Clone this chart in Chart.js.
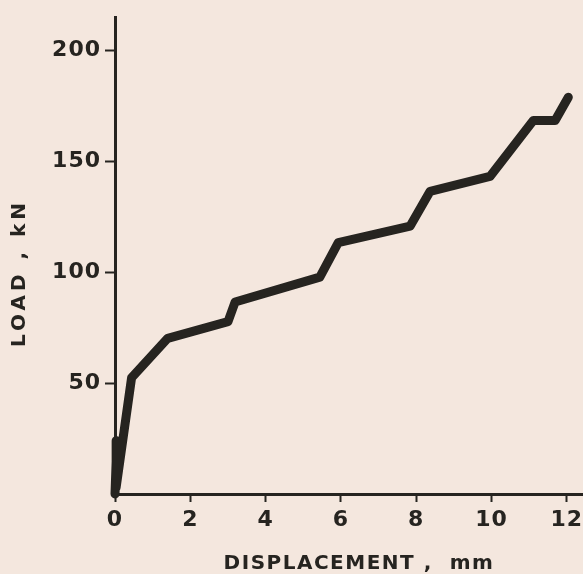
<!DOCTYPE html>
<html lang="en">
<head>
  <meta charset="UTF-8" />
  <title>Load vs Displacement</title>
  <script src="https://cdn.jsdelivr.net/npm/chart.js"></script>
  <style>
    html, body {
      margin: 0;
      padding: 0;
      background: #f4e7de;
    }
    #wrap {
      width: 583px;
      height: 574px;
      position: relative;
    }
  </style>
</head>
<body>

<div id="wrap">
  <canvas id="myChart"></canvas>
</div>

<script>
  // Values
  const displacementMm = [0, 0.05, 0.03, 0.44, 1.4, 3.0, 3.19, 5.44, 5.93, 7.84, 8.37, 9.96, 11.11, 11.69, 12.04];
  const loadKn = [0, 24, 3, 52.4, 70.2, 77.7, 86.6, 97.8, 113.4, 120.8, 136.5, 143.2, 168.4, 168.4, 178.9];

  const xTicks = [0, 2, 4, 6, 8, 10, 12];
  const yTicks = [50, 100, 150, 200];

  const xTitle = 'DISPLACEMENT ,  mm';
  const yTitle = 'LOAD , kN';

  const ink = '#262420';
  const fontFamily = '"DejaVu Sans", sans-serif';

  // Axis titles drawn by hand so each can get its own letter spacing
  const axisTitles = {
    id: 'axisTitles',
    beforeDraw(chart) {
      chart.ctx.letterSpacing = '1px';
    },
    afterDraw(chart) {
      const ctx = chart.ctx;
      ctx.save();
      ctx.fillStyle = ink;
      ctx.textAlign = 'center';
      ctx.textBaseline = 'middle';
      ctx.font = 'bold 20px ' + fontFamily;

      ctx.letterSpacing = '1.5px';
      ctx.fillText(xTitle, 359, 564);

      ctx.letterSpacing = '4px';
      ctx.translate(20, 273);
      ctx.rotate(-Math.PI / 2);
      ctx.fillText(yTitle, 0, 0);
      ctx.restore();
    }
  };

  const ctx = document.getElementById('myChart').getContext('2d');

  const myChart = new Chart(ctx, {
    type: 'line',
    data: {
      datasets: [{
        data: displacementMm.map((x, i) => ({ x: x, y: loadKn[i] })),
        borderColor: ink,
        borderWidth: 9,
        borderCapStyle: 'round',
        borderJoinStyle: 'round',
        pointRadius: 0,
        tension: 0,
        fill: false,
        clip: 12
      }]
    },
    options: {
      responsive: true,
      maintainAspectRatio: false,
      animation: false,
      layout: {
        padding: { top: 13, right: 0, left: 0, bottom: 0 }
      },
      scales: {
        x: {
          type: 'linear',
          min: 0,
          max: 12.43,
          afterBuildTicks: scale => {
            scale.ticks = xTicks.map(v => ({ value: v }));
          },
          afterFit: scale => {
            scale.height = 80;
            // axis runs to the right edge, no room kept for the last label
            scale.paddingLeft = 0;
            scale.paddingRight = 0;
          },
          border: { display: true, width: 3, color: ink },
          grid: {
            drawOnChartArea: false,
            color: ink,
            tickColor: ink,
            tickWidth: 2,
            tickLength: 8
          },
          ticks: {
            color: ink,
            padding: 5,
            font: { size: 22, family: fontFamily, weight: 'bold' }
          }
        },
        y: {
          type: 'linear',
          min: 0,
          max: 215,
          afterBuildTicks: scale => {
            scale.ticks = yTicks.map(v => ({ value: v }));
          },
          afterFit: scale => {
            scale.width = 115;
          },
          border: { display: true, width: 3, color: ink },
          grid: {
            drawOnChartArea: false,
            color: ink,
            tickColor: ink,
            tickWidth: 2,
            tickLength: 10
          },
          ticks: {
            color: ink,
            padding: 4,
            font: { size: 22, family: fontFamily, weight: 'bold' }
          }
        }
      },
      plugins: {
        legend: { display: false },
        tooltip: { enabled: false }
      }
    },
    plugins: [axisTitles]
  });
</script>

</body>
</html>
